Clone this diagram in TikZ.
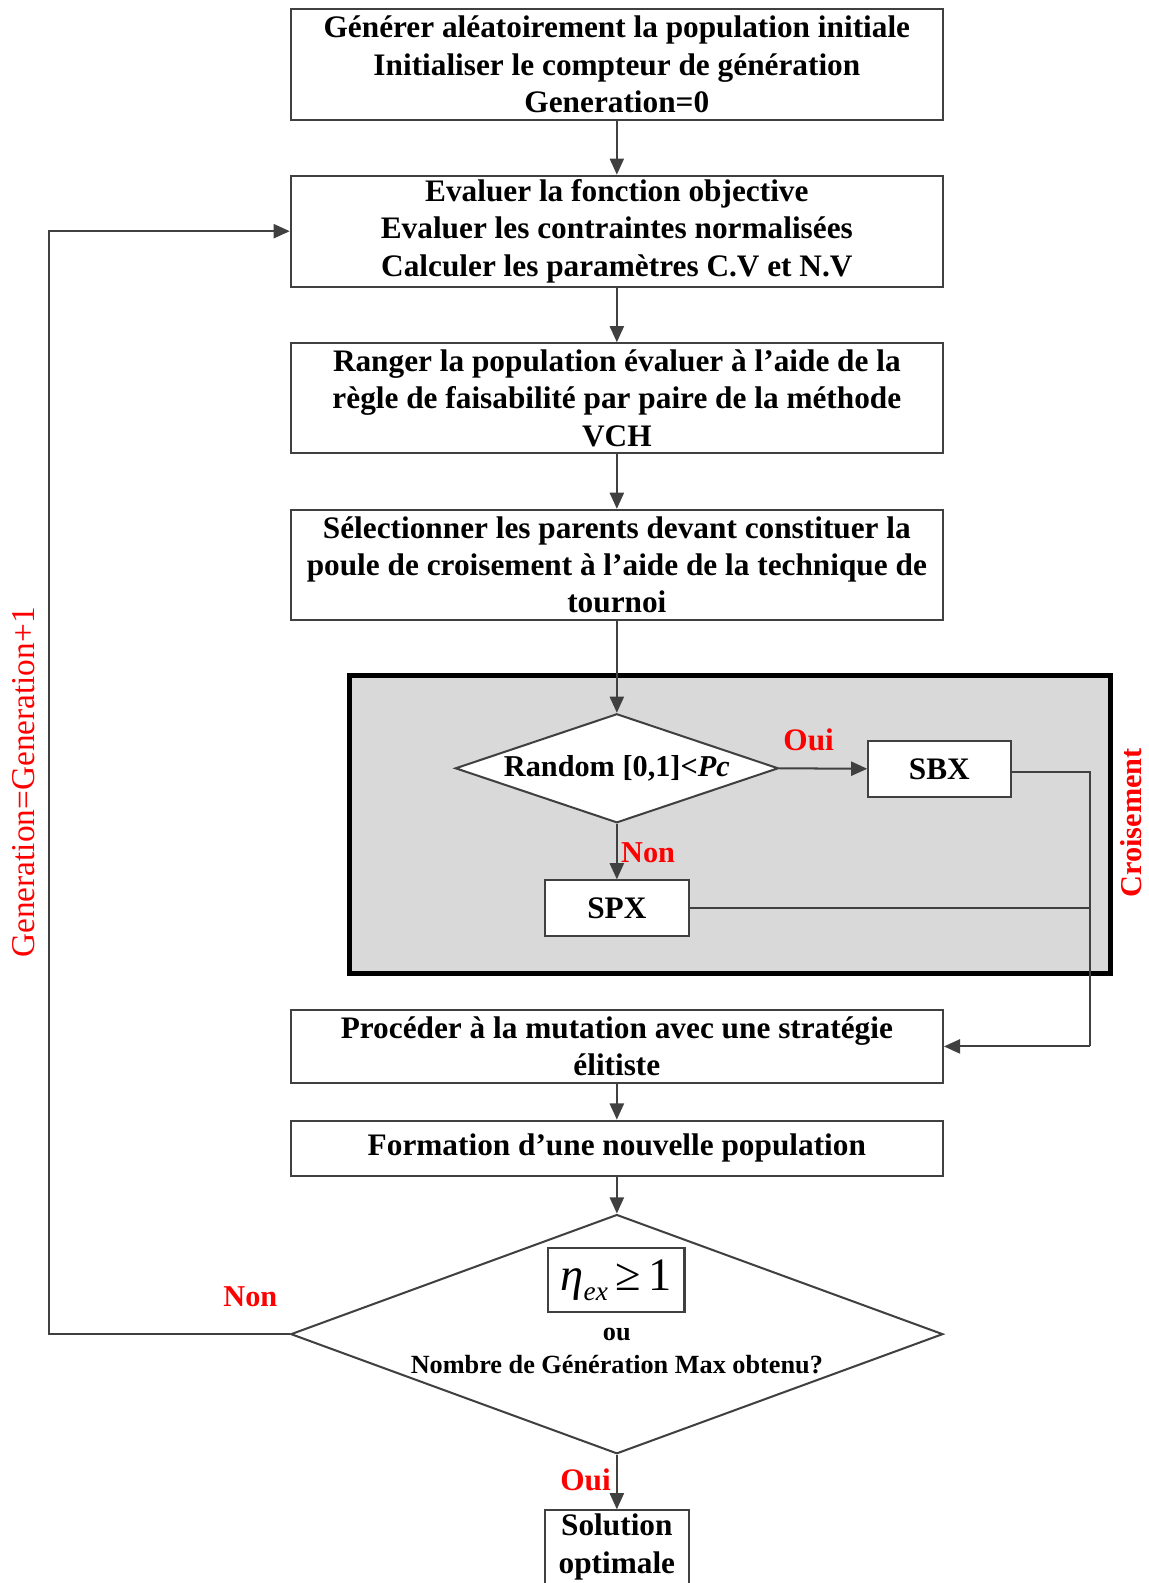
\documentclass[tikz,border=0pt]{standalone}
\usepackage{fontspec}
\setmainfont{Liberation Serif}
\usetikzlibrary{arrows.meta,shapes.geometric}
\definecolor{crossgray}{HTML}{D9D9D9}
\definecolor{linegray}{HTML}{404040}
\begin{document}
\begin{tikzpicture}[x=1pt,y=-1pt,
  box/.style={draw=linegray, line width=2pt, fill=white, align=center,
    font=\fontsize{31}{37}\selectfont\bfseries, inner sep=0pt},
  arr/.style={draw=linegray, line width=2pt, -{Triangle[length=16pt,width=14pt]}},
  conn/.style={draw=linegray, line width=2pt},
  lbl/.style={text=red, font=\fontsize{30}{34}\selectfont\bfseries, inner sep=0pt},
  dia/.style={draw=linegray, line width=2pt, fill=white, diamond, inner sep=0pt}
]
\useasboundingbox (0,0) rectangle (1138,1568);

% crossover background
\node[draw=black, line width=4.5pt, fill=crossgray, minimum width=754pt, minimum height=295pt, inner sep=0pt] (cross) at (723,816.5) {};

\node[box, minimum width=646pt, minimum height=110pt] (b1) at (611,64)
  {Générer aléatoirement la population initiale\\Initialiser le compteur de génération\\Generation=0};
\node[box, minimum width=646pt, minimum height=110pt] (b2) at (611,229)
  {Evaluer la fonction objective\\Evaluer les contraintes normalisées\\Calculer les paramètres C.V et N.V};
\node[box, minimum width=646pt, minimum height=109pt] (b3) at (611,394.5)
  {Ranger la population évaluer à l’aide de la\\règle de faisabilité par paire de la méthode\\VCH};
\node[box, minimum width=646pt, minimum height=109pt] (b4) at (611,559.5)
  {Sélectionner les parents devant constituer la\\poule de croisement à l’aide de la technique de\\tournoi};

\node[dia, minimum width=320pt, minimum height=108pt] (d1) at (611,761) {};
\node[font=\fontsize{30}{34}\selectfont\bfseries, inner sep=0pt] (d1t) at (611,761) {Random [0,1]<\textit{Pc}};
\node[box, minimum width=141pt, minimum height=55pt] (sbx) at (930.5,761.5) {SBX};
\node[box, minimum width=142pt, minimum height=55pt] (spx) at (611,899.5) {SPX};

\node[box, minimum width=646pt, minimum height=73pt] (b5) at (611,1036.5)
  {Procéder à la mutation avec une stratégie\\élitiste};
\node[box, minimum width=646pt, minimum height=55pt] (b6) at (611,1137.5)
  {Formation d’une nouvelle population};

\node[dia, minimum width=646pt, minimum height=237pt] (d2) at (611,1321.5) {};
\node[draw=linegray, line width=2pt, minimum width=135pt, minimum height=64pt, inner sep=0pt, font=\fontsize{46}{46}\selectfont] (eta) at (610.5,1268)
  {\textit{η}\raisebox{-0.22em}{\fontsize{27}{27}\selectfont\textit{ex}}\,≥\,1};
\node[font=\fontsize{26}{30}\selectfont\bfseries, inner sep=0pt] (ou) at (611,1322) {ou};
\node[font=\fontsize{26}{30}\selectfont\bfseries, inner sep=0pt] (nb) at (611,1352) {Nombre de Génération Max obtenu?};

\node[draw=linegray, line width=2pt, fill=white, minimum width=142pt, minimum height=80pt, inner sep=0pt, anchor=north] (sol) at (611,1495) {};
\node[font=\fontsize{31}{38}\selectfont\bfseries, align=center, inner sep=0pt] (solt) at (611,1532) {Solution\\optimale};

% connectors
\draw[arr] (b1.south) -- (b2.north);
\draw[arr] (b2.south) -- (b3.north);
\draw[arr] (b3.south) -- (b4.north);
\draw[arr] (b4.south) -- (d1.north);
\draw[arr] (d1.east) -- (sbx.west);
\draw[arr] (d1.south) -- (spx.north);
\coordinate (cj) at (1080,1036.5);
\draw[conn] ([yshift=-3pt]sbx.east) -| (cj);
\draw[arr] (cj) -- (b5.east);
\draw[conn] (spx.east) -- (spx.east -| cj);
\draw[arr] (b5.south) -- (b6.north);
\draw[arr] (b6.south) -- (d2.north);
\draw[arr] (d2.south) -- (sol.north);
\coordinate (fb) at (49,1321.5);
\draw[arr] (d2.west) -- (fb) |- (b2.west);

% labels
\node[lbl, font=\fontsize{31}{34}\selectfont\bfseries] (loui1) at (801,733) {Oui};
\node[lbl] (lnon1) at (642,845) {Non};
\node[lbl, font=\fontsize{31}{34}\selectfont\bfseries] (loui2) at (580,1466) {Oui};
\node[lbl] (lnon2) at (248,1284) {Non};
\node[lbl, rotate=90] (lcross) at (1120,815) {Croisement};
\node[lbl, rotate=90, font=\fontsize{33}{36}\selectfont] (lgen) at (23,775) {Generation=Generation+1};
\end{tikzpicture}
\end{document}
